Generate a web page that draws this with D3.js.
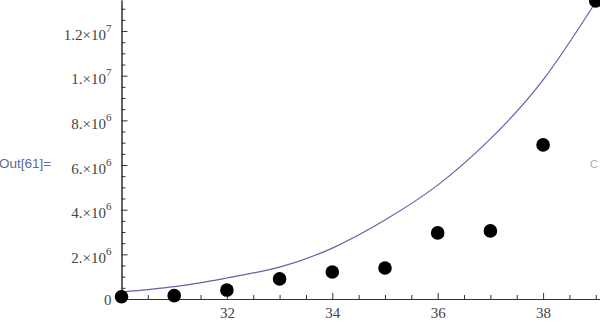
<!DOCTYPE html>
<html>
<head>
<meta charset="utf-8">
<script src="https://cdn.jsdelivr.net/npm/d3@7"></script>
<style>
  body { margin: 0; background: #fff; }
  svg { display: block; }
  .axis path, .axis line { stroke: #333; }
</style>
</head>
<body>
<svg id="chart" width="600" height="324"></svg>
<script>
// data points (x, value)
const xValues = [30, 31, 32, 33, 34, 35, 36, 37, 38, 39];
const pointValues = [0.1e6, 0.15e6, 0.4e6, 0.9e6, 1.21e6, 1.39e6, 2.96e6, 3.05e6, 6.9e6, 13.35e6];

// fitted curve
const curveX = [30, 31, 32, 33, 34, 35, 36, 37, 38, 39];
const curveValues = [0.31e6, 0.55e6, 0.94e6, 1.43e6, 2.28e6, 3.54e6, 5.1e6, 7.17e6, 9.81e6, 13.3e6];

// tick labels
const xTicks = [32, 34, 36, 38];
const yTicks = [0, 2e6, 4e6, 6e6, 8e6, 1e7, 1.2e7];
const yTickMantissa = ['0', '2.', '4.', '6.', '8.', '1.', '1.2'];
const yTickExponent = ['', '6', '6', '6', '6', '7', '7'];

const serif = '"Liberation Serif", "DejaVu Serif", serif';

const svg = d3.select('#chart');

const x = d3.scaleLinear().domain([30, 39.08]).range([121.5, 600]);
const y = d3.scaleLinear().domain([0, 1.339e7]).range([299, 0]);

// minor ticks
const yMinor = d3.range(0, 1.34e7, 5e5).filter(v => !yTicks.includes(v));
const xMinor = d3.range(30, 39.1, 0.5).filter(v => !xTicks.includes(v));

function styleAxis(g) {
    g.attr('font-family', serif).attr('font-size', 15);
    g.selectAll('text').attr('fill', '#444');
}

svg.append('g')
    .attr('class', 'axis')
    .attr('transform', `translate(${x(30)},0)`)
    .call(d3.axisLeft(y).tickValues(yMinor).tickSize(-4).tickSizeOuter(0).tickFormat(''));

const yAxis = svg.append('g')
    .attr('class', 'axis')
    .attr('transform', `translate(${x(30)},0)`)
    .call(d3.axisLeft(y).tickValues(yTicks).tickSize(-6).tickSizeOuter(0).tickPadding(10))
    .call(styleAxis);

yAxis.selectAll('.tick text')
    .text(null)
    .attr('dy', null)
    .attr('y', 8)
    .each(function (d, i) {
        const t = d3.select(this);
        t.append('tspan').text(yTickMantissa[i] + (yTickExponent[i] ? '\u00d710' : ''));
        if (yTickExponent[i]) {
            t.append('tspan').attr('dy', -8).attr('font-size', 11).text(yTickExponent[i]);
        }
    });
yAxis.selectAll('.tick')
    .filter(d => d === 0)
    .select('text').attr('y', 5);

svg.append('g')
    .attr('class', 'axis')
    .attr('transform', `translate(0,${y(0)})`)
    .call(d3.axisBottom(x).tickValues(xMinor).tickSize(-4).tickSizeOuter(0).tickFormat(''));

svg.append('g')
    .attr('class', 'axis')
    .attr('transform', `translate(0,${y(0)})`)
    .call(d3.axisBottom(x).tickValues(xTicks).tickSize(-6).tickSizeOuter(0).tickPadding(8))
    .call(styleAxis);

// fitted curve
const line = d3.line()
    .x((d, i) => x(curveX[i]))
    .y(d => y(d))
    .curve(d3.curveNatural);

svg.append('path')
    .datum(curveValues)
    .attr('d', line)
    .attr('fill', 'none')
    .attr('stroke', '#6262aa')
    .attr('stroke-width', 1.2);

// data points
svg.selectAll('circle.pt')
    .data(pointValues)
    .enter()
    .append('circle')
    .attr('class', 'pt')
    .attr('cx', (d, i) => x(xValues[i]))
    .attr('cy', d => y(d))
    .attr('r', 6.8)
    .attr('fill', '#000');

// notebook output label
svg.append('text')
    .attr('x', -1)
    .attr('y', 168)
    .attr('font-family', '"Liberation Sans", Arial, sans-serif')
    .attr('font-size', 13.5)
    .attr('fill', '#5a6c9e')
    .text('Out[61]=');

svg.append('text')
    .attr('x', 590)
    .attr('y', 168)
    .attr('font-family', '"Liberation Sans", Arial, sans-serif')
    .attr('font-size', 11)
    .attr('fill', '#aaa')
    .text('C');
</script>
</body>
</html>
